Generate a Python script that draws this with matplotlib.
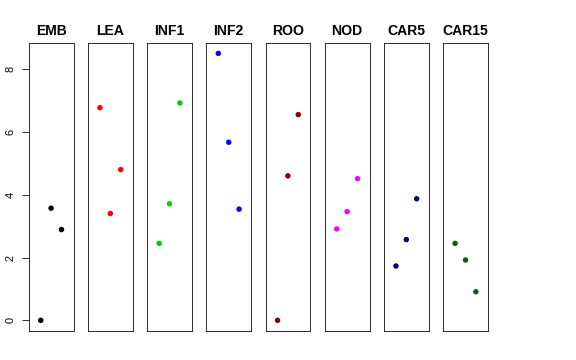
import matplotlib
matplotlib.use('Agg')
import matplotlib.pyplot as plt

plt.rcParams['font.family'] = ['Liberation Sans', 'DejaVu Sans']

# 各面板数据
panels = ['EMB', 'LEA', 'INF1', 'INF2', 'ROO', 'NOD', 'CAR5', 'CAR15']
colors = ['#000000', '#FF0000', '#00CD00', '#0000FF', '#8B0000', '#FF00FF', '#000080', '#006400']
x_pos = [1, 2, 3]
emb = [0.0, 3.57, 2.89]
lea = [6.77, 3.40, 4.80]
inf1 = [2.45, 3.71, 6.92]
inf2 = [8.50, 5.67, 3.54]
roo = [0.0, 4.60, 6.55]
nod = [2.91, 3.46, 4.51]
car5 = [1.73, 2.57, 3.87]
car15 = [2.45, 1.92, 0.91]
series = [emb, lea, inf1, inf2, roo, nod, car5, car15]
y_ticks = [0, 2, 4, 6, 8]

W, H = 576, 360
fig = plt.figure(figsize=(W / 72, H / 72), dpi=72)

left0 = 28.7
pw = 44.8
step = 59.2
top_px, bot_px = 42.7, 331.0

# R 风格的 4% 扩展
ylo, yhi = 0.0, 8.5
yr = (yhi - ylo) * 0.04
xlo, xhi = 0.0, 4.0
xr = (xhi - xlo) * 0.04

for i, (name, vals, c) in enumerate(zip(panels, series, colors)):
    l = left0 + i * step
    ax = fig.add_axes([l / W, (H - bot_px) / H, pw / W, (bot_px - top_px) / H])
    ax.scatter(x_pos, vals, s=30, color=c, edgecolors='none', zorder=3)
    ax.set_xlim(xlo - xr, xhi + xr)
    ax.set_ylim(ylo - yr, yhi + yr)
    ax.set_xticks([])
    for sp in ax.spines.values():
        sp.set_linewidth(0.8)
        sp.set_color('black')
    ax.set_title(name, fontsize=14, fontweight='bold', pad=8)
    if i == 0:
        ax.set_yticks(y_ticks)
        ax.set_yticklabels([str(t) for t in y_ticks], rotation=90, va='center', fontsize=11)
        ax.tick_params(axis='y', length=7, width=0.8, pad=6)
    else:
        ax.set_yticks([])

plt.savefig('out.png', dpi=72)
